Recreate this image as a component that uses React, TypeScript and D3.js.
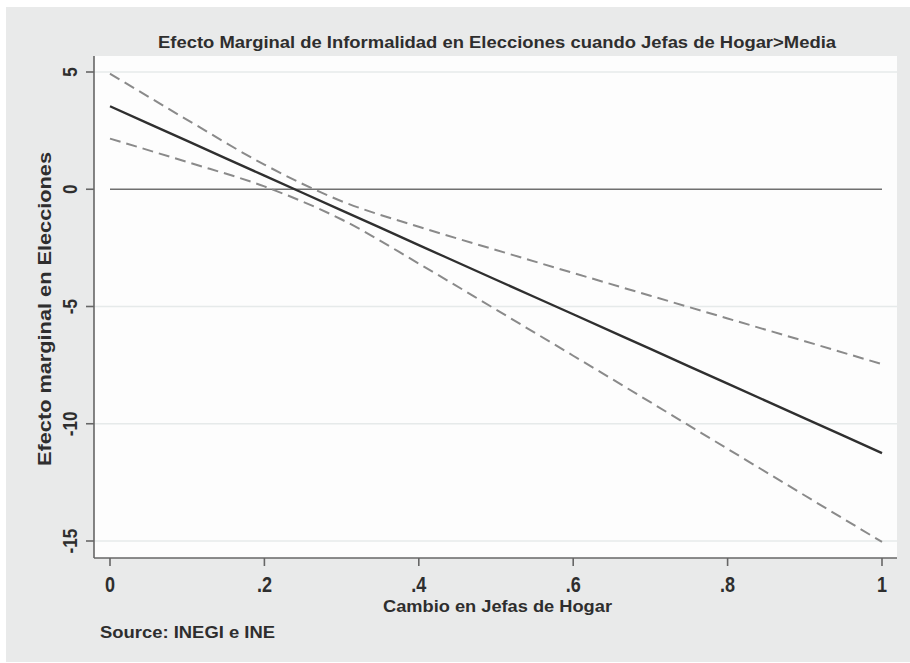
import React, { useRef, useEffect } from 'react';
import * as d3 from 'd3';

// values
const xValues = [0, 0.1, 0.2, 0.3, 0.4, 0.5, 0.6, 0.7, 0.8, 0.9, 1];
const effect = [3.54, 2.06, 0.58, -0.9, -2.38, -3.86, -5.33, -6.81, -8.29, -9.77, -11.25];
const upper = [4.93, 2.96, 1.05, -0.51, -1.6, -2.59, -3.57, -4.54, -5.51, -6.48, -7.46];
const lower = [2.16, 1.16, 0.12, -1.29, -3.17, -5.13, -7.1, -9.08, -11.07, -13.06, -15.04];
const xTicks = [0, 0.2, 0.4, 0.6, 0.8, 1];
const xTickLabels = ['0', '.2', '.4', '.6', '.8', '1'];
const yTicks = [5, 0, -5, -10, -15];

const FONT = '"Liberation Sans", Arial, sans-serif';
const INK = '#2e2e2e';

const App = () => {
  const ref = useRef<SVGSVGElement>(null);

  useEffect(() => {
    const svg = d3.select(ref.current);
    svg.selectAll('*').remove();

    const plot = { left: 94, right: 897, top: 56, bottom: 558 };

    const xScale = d3.scaleLinear().domain([0, 1]).range([110, 882]);
    const yScale = d3.scaleLinear().domain([5, -15]).range([72, 541]);

    // background
    svg.append('rect').attr('width', 910).attr('height', 663).attr('fill', '#ffffff');
    svg.append('rect')
      .attr('x', 6).attr('y', 7).attr('width', 904).attr('height', 655)
      .attr('fill', '#e9eaea');
    svg.append('rect')
      .attr('x', plot.left).attr('y', plot.top)
      .attr('width', plot.right - plot.left).attr('height', plot.bottom - plot.top)
      .attr('fill', '#fdfdfd');

    // grid lines
    svg.selectAll('.grid')
      .data(yTicks.filter(d => d !== 0))
      .enter()
      .append('line')
      .attr('class', 'grid')
      .attr('x1', plot.left).attr('x2', plot.right)
      .attr('y1', d => yScale(d)).attr('y2', d => yScale(d))
      .attr('stroke', '#e6eaea')
      .attr('stroke-width', 1.5);

    // zero reference line
    svg.append('line')
      .attr('x1', xScale(0)).attr('x2', xScale(1))
      .attr('y1', yScale(0)).attr('y2', yScale(0))
      .attr('stroke', '#707070')
      .attr('stroke-width', 1.6);

    // axes
    svg.append('line')
      .attr('x1', plot.left).attr('x2', plot.left)
      .attr('y1', plot.top).attr('y2', plot.bottom)
      .attr('stroke', '#666').attr('stroke-width', 1.6);
    svg.append('line')
      .attr('x1', plot.left).attr('x2', plot.right)
      .attr('y1', plot.bottom).attr('y2', plot.bottom)
      .attr('stroke', '#666').attr('stroke-width', 1.6);

    yTicks.forEach(t => {
      svg.append('line')
        .attr('x1', plot.left - 8).attr('x2', plot.left)
        .attr('y1', yScale(t)).attr('y2', yScale(t))
        .attr('stroke', '#666').attr('stroke-width', 1.6);
      svg.append('text')
        .attr('transform', `translate(77,${yScale(t)}) rotate(-90) scale(0.82,1)`)
        .attr('text-anchor', 'middle')
        .attr('font-family', FONT)
        .attr('font-weight', 'bold')
        .attr('font-size', 21)
        .attr('fill', INK)
        .text(String(t));
    });

    xTicks.forEach((t, i) => {
      svg.append('line')
        .attr('x1', xScale(t)).attr('x2', xScale(t))
        .attr('y1', plot.bottom).attr('y2', plot.bottom + 8)
        .attr('stroke', '#666').attr('stroke-width', 1.6);
      svg.append('text')
        .attr('transform', `translate(${xScale(t)},592) scale(0.82,1)`)
        .attr('text-anchor', 'middle')
        .attr('font-family', FONT)
        .attr('font-weight', 'bold')
        .attr('font-size', 22)
        .attr('fill', INK)
        .text(xTickLabels[i]);
    });

    // lines
    const line = d3.line<number>()
      .x((_, i) => xScale(xValues[i]))
      .y(d => yScale(d))
      .curve(d3.curveMonotoneX);

    [upper, lower].forEach(series => {
      svg.append('path')
        .attr('d', line(series))
        .attr('fill', 'none')
        .attr('stroke', '#8a8a8a')
        .attr('stroke-width', 2)
        .attr('stroke-dasharray', '11,6');
    });

    svg.append('path')
      .attr('d', line(effect))
      .attr('fill', 'none')
      .attr('stroke', '#2f2f2f')
      .attr('stroke-width', 2.4);

    // titles
    svg.append('text')
      .attr('x', 158).attr('y', 48)
      .attr('font-family', FONT).attr('font-weight', 'bold').attr('font-size', 17)
      .attr('fill', INK)
      .attr('textLength', 678).attr('lengthAdjust', 'spacingAndGlyphs')
      .text('Efecto Marginal de Informalidad en Elecciones cuando Jefas de Hogar>Media');

    svg.append('text')
      .attr('x', 383).attr('y', 612)
      .attr('font-family', FONT).attr('font-weight', 'bold').attr('font-size', 17)
      .attr('fill', INK)
      .attr('textLength', 229).attr('lengthAdjust', 'spacingAndGlyphs')
      .text('Cambio en Jefas de Hogar');

    svg.append('text')
      .attr('transform', 'translate(51,309) rotate(-90)')
      .attr('text-anchor', 'middle')
      .attr('font-family', FONT).attr('font-weight', 'bold').attr('font-size', 18)
      .attr('fill', INK)
      .attr('textLength', 314).attr('lengthAdjust', 'spacingAndGlyphs')
      .text('Efecto marginal en Elecciones');

    svg.append('text')
      .attr('x', 100).attr('y', 638)
      .attr('font-family', FONT).attr('font-weight', 'bold').attr('font-size', 17)
      .attr('fill', INK)
      .attr('textLength', 175).attr('lengthAdjust', 'spacingAndGlyphs')
      .text('Source: INEGI e INE');
  }, []);

  return (
    <svg
      ref={ref}
      width="910"
      height="663"
      style={{ position: 'absolute', left: 0, top: 0, display: 'block' }}
    ></svg>
  );
};

export default App;
